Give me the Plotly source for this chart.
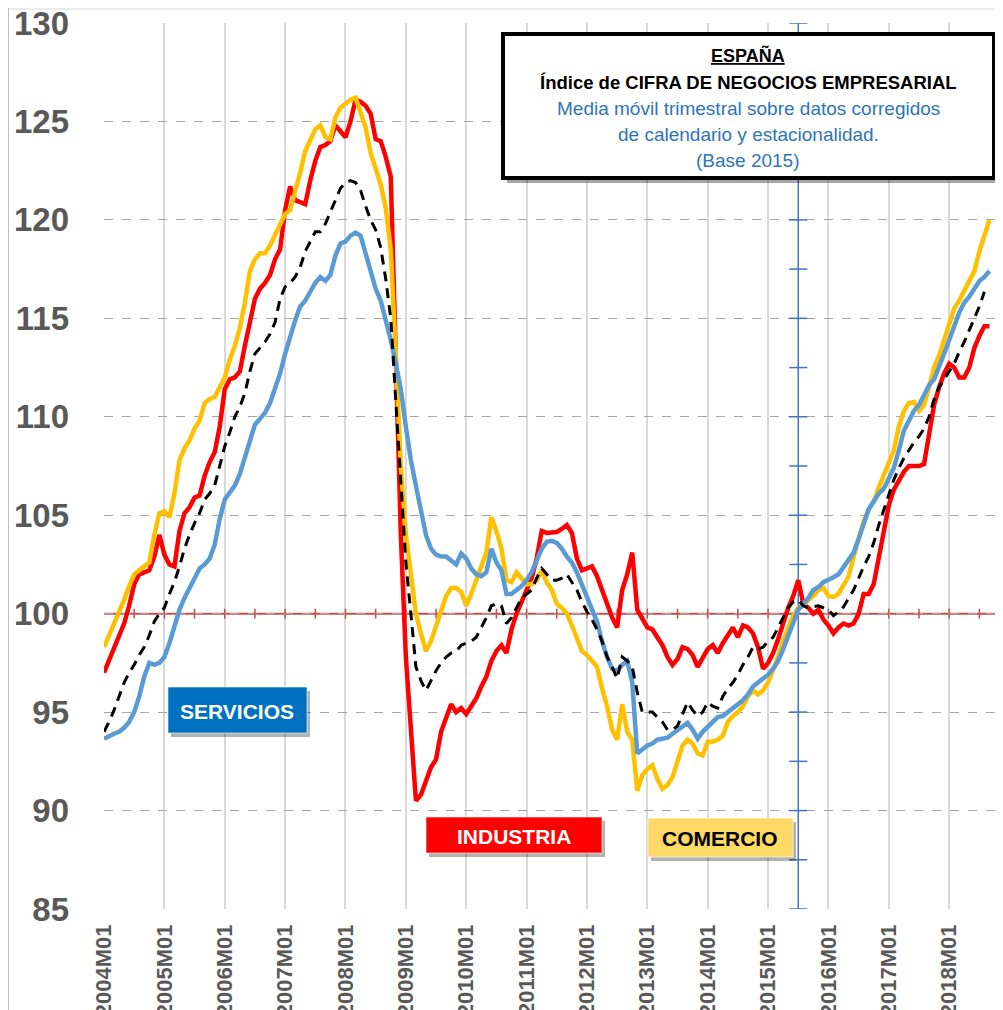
import plotly.graph_objects as go

# ---------------- DATA ----------------
years = list(range(2004, 2019))
months = [f"{y}M{m:02d}" for y in years for m in range(1, 13)]
tick_labels = [f"{y}M01" for y in years]
y_ticks = [85, 90, 95, 100, 105, 110, 115, 120, 125, 130]

industria = [
    97.0, 97.6, 98.2, 98.8, 99.5, 100.4, 101.5, 102.0, 102.1, 102.2, 102.9, 104.0,
    103.0, 102.5, 102.4, 104.2, 105.1, 105.4, 105.9, 106.0, 107.0, 107.7, 108.2, 109.5,
    111.4, 111.9, 112.0, 112.3, 113.6, 114.8, 116.0, 116.5, 116.8, 117.2, 118.0, 118.5,
    120.5, 121.7, 121.0, 120.9, 120.8, 122.0, 123.0, 123.7, 123.8, 124.0, 124.8, 124.5,
    124.2, 125.0, 126.1, 126.0, 125.8, 125.4, 124.1, 124.0, 123.2, 122.2, 112.5, 104.0,
    97.8, 94.0, 90.5, 90.8, 91.5, 92.2, 92.6, 94.0, 94.7, 95.4, 95.0, 95.2,
    94.9, 95.3, 95.7, 96.3, 96.8, 97.6, 98.1, 98.4, 98.0, 99.2, 100.0, 100.6,
    101.2, 101.8, 102.8, 104.2, 104.1, 104.1, 104.15, 104.3, 104.5, 104.1, 102.8, 102.2,
    102.3, 102.4, 101.9, 101.2, 100.5, 99.8, 99.3, 101.2, 102.0, 103.1, 100.2, 99.8,
    99.3, 99.2, 98.8, 98.4, 97.8, 97.4, 97.7, 98.3, 98.2, 97.9, 97.3, 97.7,
    98.2, 98.4, 98.0, 98.5, 98.9, 99.3, 98.8, 99.4, 99.3, 99.0, 98.3, 97.2,
    97.5, 98.0, 98.7, 99.6, 100.3, 100.9, 101.7, 100.5, 100.3, 100.0, 100.2, 99.7,
    99.4, 99.0, 99.3, 99.5, 99.4, 99.5, 100.0, 101.0, 101.0, 101.5, 102.9, 104.2,
    105.5, 106.3, 106.8, 107.2, 107.5, 107.5, 107.5, 107.6, 109.2, 110.6, 111.5, 112.2,
    112.7, 112.5, 112.0, 112.0, 112.5, 113.5, 114.1, 114.6, 114.6,
]

comercio = [
    98.3, 98.9, 99.5, 100.0, 100.7, 101.4, 102.0, 102.2, 102.4, 102.6, 104.0, 105.1,
    105.2, 104.9, 106.1, 107.8, 108.4, 108.8, 109.4, 109.8, 110.7, 110.9, 111.0, 111.5,
    112.0, 112.9, 113.6, 114.5, 115.8, 117.4, 118.0, 118.3, 118.3, 118.7, 119.2, 119.7,
    120.3, 120.5, 121.4, 122.4, 123.5, 124.1, 124.6, 124.8, 124.2, 124.1, 125.2, 125.7,
    125.9, 126.1, 126.2, 125.4, 124.7, 123.4, 122.5, 121.8, 120.6, 118.5, 113.2, 107.5,
    104.0, 101.8, 100.0, 99.0, 98.1, 98.6, 99.4, 100.2, 100.9, 101.3, 101.3, 101.1,
    100.4, 101.0, 101.7, 102.4, 103.1, 104.9, 104.2, 103.3, 101.7, 101.6, 102.1, 101.8,
    101.5, 101.5, 101.7, 102.2, 101.6, 101.2, 100.5, 100.3, 100.0, 99.4, 98.7, 98.1,
    97.9, 97.6, 97.3, 96.2, 95.3, 94.1, 93.6, 95.4, 94.0, 93.6, 91.0, 91.8,
    92.1, 92.3, 91.6, 91.1, 91.3, 91.7, 92.5, 93.3, 93.6, 93.4, 92.9, 92.8,
    93.5, 93.5, 93.6, 93.8, 94.5, 94.8, 95.0, 95.3, 95.8, 96.1, 95.9, 96.1,
    96.5, 97.1, 97.8, 98.6, 99.3, 99.9, 100.3, 100.4, 100.7, 100.9, 101.2, 101.3,
    100.9, 100.85, 101.0, 101.4, 101.9, 102.9, 103.8, 104.7, 105.3, 105.7, 106.4, 107.0,
    107.6, 108.3, 109.5, 110.3, 110.7, 110.75, 110.3, 110.6, 111.5, 112.5, 113.1, 113.9,
    114.8, 115.5, 115.9, 116.4, 116.9, 117.4, 118.4, 119.3, 120.0,
]

servicios = [
    93.65, 93.8, 93.9, 94.0, 94.2, 94.5, 95.0, 95.8, 96.8, 97.5, 97.4, 97.5,
    97.8, 98.5, 99.4, 100.2, 100.8, 101.3, 101.8, 102.3, 102.5, 102.8, 103.5, 104.8,
    105.8, 106.2, 106.5, 107.1, 108.0, 108.8, 109.6, 109.9, 110.2, 110.7, 111.5, 112.2,
    113.2, 114.1, 114.9, 115.6, 115.9, 116.35, 116.8, 117.1, 116.9, 117.2, 118.2, 118.8,
    118.9, 119.2, 119.35, 119.2, 118.3, 117.2, 116.5, 115.9, 115.0, 113.9, 112.7, 111.4,
    109.5, 107.8, 106.5, 105.2, 104.0, 103.3, 103.0, 102.9, 102.9, 102.7, 102.5, 103.05,
    102.8, 102.3, 102.0, 101.9, 102.1, 103.3, 102.6, 102.2, 101.0, 101.0, 101.2, 101.4,
    101.7, 102.1, 102.7, 103.3, 103.65, 103.7, 103.6, 103.3, 102.9, 102.6, 102.1, 101.5,
    100.9, 100.2, 99.6, 98.6, 97.8, 97.2, 97.1, 97.4, 97.6, 96.5, 92.9, 93.1,
    93.3, 93.4, 93.6, 93.65, 93.7, 93.9, 94.1, 94.3, 94.45, 94.1, 93.65, 94.0,
    94.25, 94.5, 94.75, 94.8, 95.0, 95.2, 95.35, 95.6, 95.9, 96.3, 96.5, 96.7,
    96.9, 97.2, 97.6, 98.2, 98.9, 99.5, 100.2, 100.5, 100.8, 101.2, 101.35, 101.6,
    101.7, 101.85, 102.0, 102.4, 102.8, 103.1, 103.8, 104.6, 105.3, 105.7, 106.1, 106.35,
    106.9, 107.4, 108.3, 109.3, 109.8, 110.3, 110.6, 111.1, 111.6, 111.9, 112.5, 113.2,
    113.9, 114.6, 115.3, 115.8, 116.1, 116.5, 116.9, 117.1, 117.4,
]

total = [
    94.0, 94.5, 95.1, 95.8, 96.5, 97.0, 97.4, 97.9, 98.3, 98.9, 99.6, 100.0,
    100.3, 101.0, 101.6, 102.4, 103.3, 104.0, 104.6, 105.1, 105.8, 106.1, 106.5, 107.5,
    108.5, 109.2, 110.0, 110.5, 111.2, 112.3, 113.2, 113.5, 113.8, 114.2, 114.8, 116.0,
    116.6, 116.8, 117.1, 117.6, 118.4, 118.9, 119.4, 119.4, 119.8, 120.4, 121.0, 121.6,
    121.9, 122.0, 121.9, 121.5, 120.7, 120.0, 119.5, 118.6, 117.0, 115.0, 110.8, 106.5,
    102.6, 100.0, 97.3, 96.6, 96.1, 96.6, 97.1, 97.5, 97.8, 98.0, 98.1, 98.4,
    98.5, 98.6, 98.8, 99.3, 99.8, 100.4, 100.5, 100.4, 99.5, 99.8, 100.3, 100.8,
    101.0, 101.2, 101.8, 102.3, 102.0, 101.7, 101.7, 101.8, 102.0, 101.6, 101.2, 100.6,
    100.1, 99.7, 99.2, 98.6, 97.8, 97.3, 96.7, 97.8, 97.6, 97.3, 96.0, 95.0,
    95.0, 95.0, 94.75, 94.5, 94.1, 94.1, 94.3, 94.9, 95.5, 95.1, 94.8, 95.0,
    95.5, 95.3, 95.2, 95.8, 96.2, 96.5, 96.9, 97.4, 97.8, 98.3, 98.2, 98.3,
    98.6, 98.8, 99.3, 99.8, 100.3, 100.6, 100.7, 100.4, 100.3, 100.35, 100.4, 100.3,
    100.2, 99.9, 100.1, 100.35, 100.8, 101.2, 101.8, 102.4, 102.9, 103.6, 104.5, 105.3,
    106.0, 106.8, 107.4, 107.9, 108.3, 108.7, 109.0, 109.4, 110.0, 110.9, 111.5, 111.9,
    112.3, 112.7, 113.3, 113.8, 114.4, 115.0, 115.6, 116.35,
]

base_line_value = 100
vline_month = "2015M07"

# ---------------- FIGURE ----------------
# page is drawn with an 8px body margin; work in page pixels
OFF = 8
PW, PH = 1003, 1010
PL, PR, PT, PB = 104, 1001, 23, 909          # plot area in page pixels
W, H = PW - OFF, PH - OFF
L, T = PL - OFF, PT - OFF
R, B = W - (PR - OFF), H - (PB - OFF)


def xp(px):
    return (px - PL) / (PR - PL)


def yp(py):
    return (PB - py) / (PB - PT)


fig = go.Figure()

fig.add_trace(go.Scatter(x=months[:len(industria)], y=industria, mode="lines",
                         line=dict(color="#FF0000", width=4.5), name="INDUSTRIA"))
fig.add_trace(go.Scatter(x=months[:len(comercio)], y=comercio, mode="lines",
                         line=dict(color="#FFC000", width=4.5), name="COMERCIO"))
fig.add_trace(go.Scatter(x=months[:len(servicios)], y=servicios, mode="lines",
                         line=dict(color="#5B9BD5", width=4.5), name="SERVICIOS"))
fig.add_trace(go.Scatter(x=months[:len(total)], y=total, mode="lines",
                         line=dict(color="#000000", width=3, dash="10px,7px"), name="TOTAL"))

shapes = []
# red reference line at 100 with small ticks every 6 months
shapes.append(dict(type="line", xref="paper", yref="y", x0=0, x1=1,
                   y0=base_line_value, y1=base_line_value,
                   line=dict(color="#C0504D", width=2), layer="between"))
for k in range(6, 179, 6):
    shapes.append(dict(type="line", xref="x", yref="y", x0=k, x1=k,
                       y0=base_line_value - 0.25, y1=base_line_value + 0.25,
                       line=dict(color="#C0504D", width=1.5), layer="between"))
# blue vertical line at 2015M07 with cross ticks every 2.5
vx = months.index(vline_month)
shapes.append(dict(type="line", xref="x", yref="paper", x0=vx, x1=vx, y0=0, y1=1,
                   line=dict(color="#4472C4", width=1.5), layer="between"))
v = 85.0
while v <= 130.01:
    shapes.append(dict(type="line", xref="x", yref="y", x0=vx - 1.8, x1=vx + 1.8,
                       y0=v, y1=v, line=dict(color="#4472C4", width=1.5), layer="between"))
    v += 2.5

# outer frame hints
shapes.append(dict(type="line", xref="paper", yref="paper", x0=xp(7), x1=xp(7),
                   y0=yp(OFF), y1=yp(PH), line=dict(color="#BFBFBF", width=4), layer="above"))
shapes.append(dict(type="line", xref="paper", yref="paper", x0=xp(9), x1=xp(PW),
                   y0=yp(9), y1=yp(9), line=dict(color="#E6E6E6", width=1.5), layer="above"))

# title box (shadow + box)
shapes.append(dict(type="rect", xref="paper", yref="paper", x0=xp(507), x1=xp(999),
                   y0=yp(183), y1=yp(38), fillcolor="rgba(0,0,0,0.35)",
                   line=dict(width=0), layer="above"))
shapes.append(dict(type="rect", xref="paper", yref="paper", x0=xp(503), x1=xp(994),
                   y0=yp(178), y1=yp(34), fillcolor="white",
                   line=dict(color="black", width=4), layer="above"))


def label_box(x0, x1, y0, y1, fill):
    shapes.append(dict(type="rect", xref="paper", yref="paper", x0=xp(x0 + 3), x1=xp(x1 + 3),
                       y0=yp(y1 + 4), y1=yp(y0 + 4), fillcolor="rgba(0,0,0,0.30)",
                       line=dict(width=0), layer="above"))
    shapes.append(dict(type="rect", xref="paper", yref="paper", x0=xp(x0), x1=xp(x1),
                       y0=yp(y1), y1=yp(y0), fillcolor=fill,
                       line=dict(color="rgba(255,255,255,0.6)", width=1), layer="above"))


label_box(168, 307, 687, 733, "#0070C0")
label_box(426, 602, 817, 853, "#FF0000")
label_box(648, 793, 818, 857, "#FFD966")

fig.update_layout(shapes=shapes)

font_fam = "Liberation Sans, Arial, sans-serif"
annotations = []


def txt(text, px, py, size, color, bold=False):
    annotations.append(dict(text=f"<b>{text}</b>" if bold else text,
                            xref="paper", yref="paper", x=xp(px), y=yp(py),
                            xanchor="center", yanchor="middle", showarrow=False,
                            font=dict(family=font_fam, size=size, color=color)))


cx = 748
txt("<u>ESPAÑA</u>", cx, 55, 18, "#000000", bold=True)
txt("Índice de CIFRA DE NEGOCIOS EMPRESARIAL", cx, 82, 18.5, "#000000", bold=True)
txt("Media móvil trimestral sobre datos corregidos", cx, 108, 19, "#2E75B6")
txt("de calendario y estacionalidad.", cx, 134, 19, "#2E75B6")
txt("(Base 2015)", cx, 160, 19, "#2E75B6")

txt("SERVICIOS", 237, 711, 21, "#FFFFFF", bold=True)
txt("INDUSTRIA", 514, 836, 21, "#FFFFFF", bold=True)
txt("COMERCIO", 720, 838, 21, "#000000", bold=True)

fig.update_layout(annotations=annotations)

fig.update_xaxes(type="category", categoryorder="array", categoryarray=months,
                 range=[0, 178.3], tickmode="array", tickvals=tick_labels, ticktext=tick_labels,
                 tickangle=-90, showgrid=True, gridcolor="#D9D9D9", gridwidth=1.5,
                 showline=False, zeroline=False, ticks="", automargin=False,
                 ticklabelstandoff=10, ticklabeloverflow="allow",
                 tickfont=dict(family=font_fam, size=22, color="#595959", weight="bold"))
fig.update_yaxes(range=[85, 130], tickmode="array", tickvals=y_ticks,
                 showgrid=True, gridcolor="#A6A6A6", griddash="dash", gridwidth=1,
                 showline=False, zeroline=False, ticks="", automargin=False,
                 ticklabelstandoff=34, ticklabeloverflow="allow",
                 tickfont=dict(family=font_fam, size=33, color="#595959", weight="bold"))

fig.update_layout(width=W, height=H, margin=dict(l=L, r=R, t=T, b=B),
                  paper_bgcolor="white", plot_bgcolor="white", showlegend=False)

fig.write_html("out.html")
